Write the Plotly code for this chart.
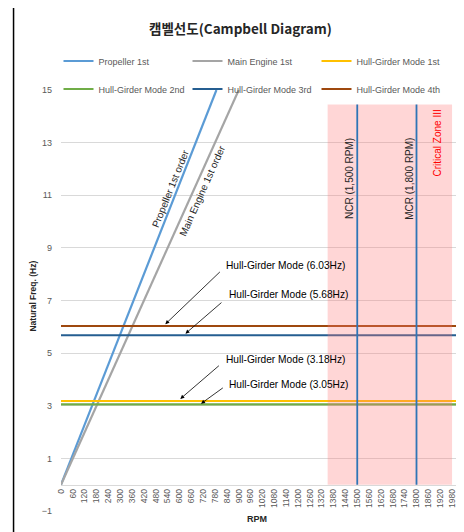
import plotly.graph_objects as go

# values
prop_rpm = [0, 787]
prop_hz = [0, 15]
engine_rpm = [0, 900]
engine_hz = [0, 15]

hull_names = ["Hull-Girder Mode 1st", "Hull-Girder Mode 2nd",
              "Hull-Girder Mode 3rd", "Hull-Girder Mode 4th"]
hull_hz = [3.18, 3.05, 5.68, 6.03]
hull_rpm = [0, 2000]

op_names = ["NCR (1,500 RPM)", "MCR (1,800 RPM)"]
op_rpm = [1500, 1800]
op_top = 14.45
zone_rpm = [1350, 1980]

x_ticks = list(range(0, 1981, 60))
y_ticks = list(range(-1, 16, 2))

FONT = "Liberation Sans, Arial, Noto Sans CJK KR"
GRAY = "#595959"

# the page body adds an 8px margin; figure sized to fit the window
OFF = 8
FW, FH = 456, 524
# plot area in screen pixels
L, T, W, H = 60.5, 90, 395.4, 421


def px(x):
    return (x - L) / W


def py(y):
    return (T + H - y) / H


fig = go.Figure()

fig.add_trace(go.Scatter(x=prop_rpm, y=prop_hz, mode="lines", name="Propeller 1st",
                         line=dict(color="#5B9BD5", width=2.2), legend="legend"))
fig.add_trace(go.Scatter(x=engine_rpm, y=engine_hz, mode="lines", name="Main Engine 1st",
                         line=dict(color="#A5A5A5", width=2.2), legend="legend"))

hull_colors = ["#FFC000", "#70AD47", "#255E91", "#9E480E"]
hull_legends = ["legend", "legend2", "legend2", "legend2"]
for name, hz, c, lg in zip(hull_names, hull_hz, hull_colors, hull_legends):
    fig.add_trace(go.Scatter(x=hull_rpm, y=[hz, hz], mode="lines", name=name,
                             line=dict(color=c, width=2.2), legend=lg))

# critical zone
fig.add_trace(go.Scatter(x=[zone_rpm[0], zone_rpm[1], zone_rpm[1], zone_rpm[0]],
                         y=[0, 0, op_top, op_top], fill="toself", mode="none",
                         fillcolor="rgba(255,120,120,0.30)", showlegend=False,
                         hoverinfo="skip"))

for r in op_rpm:
    fig.add_trace(go.Scatter(x=[r, r], y=[0, op_top], mode="lines", showlegend=False,
                             line=dict(color="#2E75B6", width=1.8)))

ann = []
# title and axis titles
ann.append(dict(text="<b>캠벨선도(Campbell Diagram)</b>", x=px(240), y=py(28),
                xref="paper", yref="paper", xanchor="center", yanchor="middle",
                showarrow=False,
                font=dict(size=13.5, color="#262626", family="Noto Sans CJK KR")))
ann.append(dict(text="<b>RPM</b>", x=px(257), y=py(519), xref="paper", yref="paper",
                xanchor="center", yanchor="middle",
                showarrow=False, font=dict(size=9, color="#262626")))
ann.append(dict(text="<b>Natural Freq. (Hz)</b>", x=px(32), y=py(296), xref="paper",
                yref="paper", xanchor="center", yanchor="middle",
                showarrow=False, textangle=-90,
                font=dict(size=8.5, color="#262626")))

# order line labels
ann.append(dict(text="Propeller 1st order", x=554, y=11.26, showarrow=False,
                textangle=-68, font=dict(size=10, color="#262626")))
ann.append(dict(text="Main Engine 1st order", x=716, y=11.18, showarrow=False,
                textangle=-66, font=dict(size=10, color="#262626")))

# NCR / MCR / zone labels
for name, x in zip(op_names, [1461, 1764]):
    ann.append(dict(text=name, x=x, y=11.64, showarrow=False, textangle=-90,
                    font=dict(size=10, color="#262626")))
ann.append(dict(text="Critical Zone III", x=1908, y=13.0, showarrow=False,
                textangle=-90, font=dict(size=10, color="#FF0000")))

# hull-girder callouts: (tail rpm, tail hz, tip rpm, tip hz, text rpm, text hz)
callouts = {
    6.03: (812, 8.14, 528, 6.10, 827, 8.34),
    5.68: (820, 6.97, 630, 5.74, 842, 7.24),
    3.18: (807, 4.57, 604, 3.26, 827, 4.77),
    3.05: (827, 3.72, 709, 3.08, 842, 3.81),
}
for hz, (tx, ty, hx, hy, lx, ly) in callouts.items():
    ann.append(dict(text="", x=hx, y=hy, ax=tx, ay=ty, axref="x", ayref="y",
                    showarrow=True, arrowhead=2, arrowsize=1, arrowwidth=0.8,
                    arrowcolor="#000000"))
    ann.append(dict(text=f"Hull-Girder Mode ({hz:.2f}Hz)", x=lx, y=ly, xanchor="left",
                    showarrow=False, font=dict(size=10.2, color="#000000")))

fig.update_layout(
    width=FW, height=FH,
    margin=dict(l=L - OFF, r=FW - (L - OFF) - W, t=T - OFF, b=FH - (T - OFF) - H),
    paper_bgcolor="white", plot_bgcolor="white",
    font=dict(family=FONT, size=9, color=GRAY),
    annotations=ann,
    legend=dict(orientation="h", x=px(58), y=py(61), xanchor="left", yanchor="middle",
                entrywidth=84, entrywidthmode="pixels", bgcolor="rgba(0,0,0,0)",
                font=dict(size=9, color=GRAY)),
    legend2=dict(orientation="h", x=px(58), y=py(89), xanchor="left", yanchor="middle",
                 entrywidth=84, entrywidthmode="pixels", bgcolor="rgba(0,0,0,0)",
                 font=dict(size=9, color=GRAY)),
    shapes=[dict(type="rect", xref="paper", yref="paper", x0=px(13), x1=px(480),
                 y0=py(545), y1=py(7), line=dict(color="black", width=1.5))],
)

fig.update_xaxes(range=[0, 2000], tickvals=x_ticks, tickangle=-90, showgrid=False,
                 zeroline=False, showline=True, linecolor="#D9D9D9", linewidth=1,
                 anchor="free", position=1 / 16, tickfont=dict(size=8.5, color=GRAY))
fig.update_yaxes(range=[-1, 15], tickvals=y_ticks, showgrid=True, gridcolor="#D9D9D9",
                 gridwidth=1, zeroline=False, showline=False, ticklabelstandoff=8,
                 tickfont=dict(size=9, color=GRAY))

fig.write_html("out.html")
